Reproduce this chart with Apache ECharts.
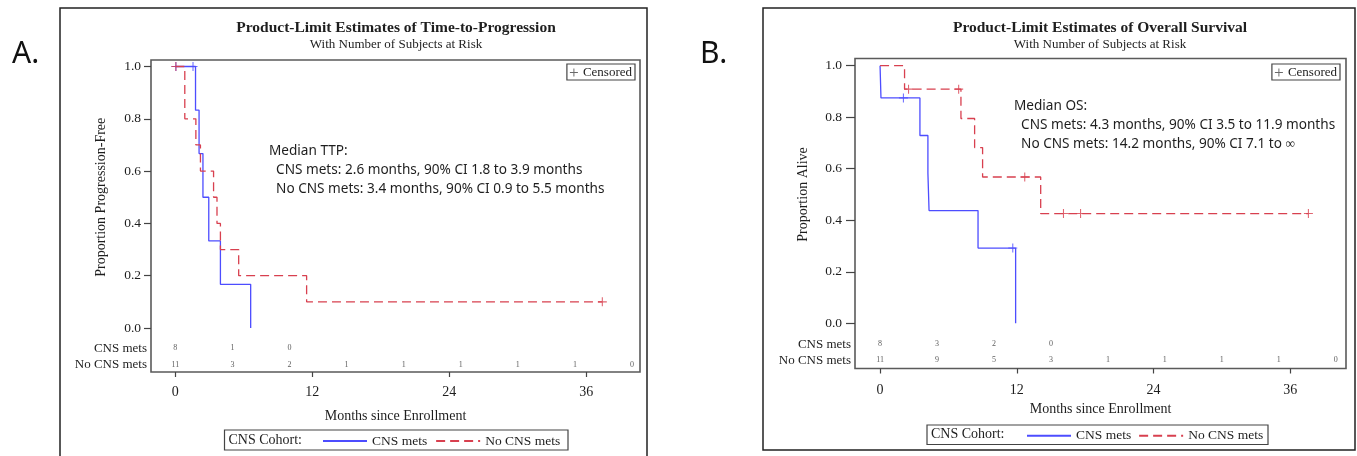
<!DOCTYPE html>
<html>
<head>
<meta charset="utf-8">
<script src="https://cdn.jsdelivr.net/npm/echarts@6/dist/echarts.min.js"></script>
<style>
html, body { margin: 0; padding: 0; background: #fff; }
#main { width: 1357px; height: 456px; }
</style>
</head>
<body>
<div id="main"></div>
<script>
// ---- values ----
var cohorts = ['CNS mets', 'No CNS mets'];
var xTicks = [0, 12, 24, 36];
var riskTimes = [0, 5, 10, 15, 20, 25, 30, 35, 40];

// A. time to progression (Kaplan-Meier steps)
var ttpCnsTime = [0, 1.77, 2.08, 2.42, 2.93, 3.95, 6.6];
var ttpCnsSurv = [1, 0.833, 0.667, 0.5, 0.333, 0.167, 0];
var ttpCnsCensTime = [0.05, 1.55];
var ttpCnsCensSurv = [1, 1];
var ttpNoTime = [0, 0.83, 1.8, 2.2, 3.35, 3.65, 3.95, 5.55, 11.5, 37.4];
var ttpNoSurv = [1, 0.8, 0.7, 0.6, 0.5, 0.4, 0.3, 0.2, 0.1, 0.1];
var ttpNoCensTime = [0.05, 37.4];
var ttpNoCensSurv = [1, 0.1];
var ttpRiskCns = [8, 1, 0];
var ttpRiskNo = [11, 3, 2, 1, 1, 1, 1, 1, 0];

// B. overall survival
var osCnsTime = [0, 0.08, 3.5, 4.2, 4.3, 8.6, 11.9];
var osCnsSurv = [1, 0.875, 0.729, 0.583, 0.4375, 0.292, 0];
var osCnsCensTime = [2.05, 11.65];
var osCnsCensSurv = [0.875, 0.292];
var osNoTime = [0, 2.15, 7.1, 8.3, 9.0, 14.1, 37.6];
var osNoSurv = [1, 0.909, 0.795, 0.682, 0.568, 0.426, 0.426];
var osNoCensTime = [2.5, 6.9, 12.7, 16.1, 17.6, 37.6];
var osNoCensSurv = [0.909, 0.909, 0.568, 0.426, 0.426, 0.426];
var osRiskCns = [8, 3, 2, 0];
var osRiskNo = [11, 9, 5, 3, 1, 1, 1, 1, 0];

var serif = 'Liberation Serif';
var sans = 'Noto Sans';
var blue = '#4d4dff';
var red = '#d8404f';
var ink = '#1e1e1e';
var plusPath = 'path://M4.4,0H5.6V10H4.4ZM0,4.4H10V5.6H0Z';

function zip(t, s) {
    return t.map(function (v, i) { return [v, s[i]]; });
}
function riskData(counts, row) {
    return counts.map(function (c, i) { return [riskTimes[i], row, c]; });
}

// layout of the two panels (pixels)
var panels = [
    {
        frame: {left: 151, top: 60, width: 489, height: 312},
        plot: {left: 151, top: 66.5, width: 489, height: 261.5},
        risk: {left: 151, top: 340, width: 489, height: 33},
        xMin: -2.13, xMax: 40.7, tickLen: 7, yMargin: 10, yGap: 43, xMargin: 13, xGap: 37,
        yName: 'Proportion Progression-Free',
        title: 'Product-Limit Estimates of Time-to-Progression', titleX: 396,
        note: 'Median TTP:\n  CNS mets: 2.6 months, 90% CI 1.8 to 3.9 months\n  No CNS mets: 3.4 months, 90% CI 0.9 to 5.5 months',
        noteX: 269, noteY: 142,
        cns: zip(ttpCnsTime, ttpCnsSurv), no: zip(ttpNoTime, ttpNoSurv),
        cnsCens: zip(ttpCnsCensTime, ttpCnsCensSurv), noCens: zip(ttpNoCensTime, ttpNoCensSurv),
        riskCns: ttpRiskCns, riskNo: ttpRiskNo,
        box: {x: 60, y: 8, width: 587, height: 460},
        legBox: {x: 224.5, y: 430, width: 343.5, height: 20}, legX: 322, legGap: 8,
        censRight: 1357 - 635, letter: 'A.', letterX: 12
    },
    {
        frame: {left: 855, top: 58.5, width: 491, height: 310},
        plot: {left: 855, top: 65.7, width: 491, height: 257.6},
        risk: {left: 855, top: 336, width: 491, height: 32.5},
        xMin: -2.2, xMax: 40.9, tickLen: 9, yMargin: 13, yGap: 45, xMargin: 15, xGap: 34,
        yName: 'Proportion Alive',
        title: 'Product-Limit Estimates of Overall Survival', titleX: 1100,
        note: 'Median OS:\n  CNS mets: 4.3 months, 90% CI 3.5 to 11.9 months\n  No CNS mets: 14.2 months, 90% CI 7.1 to \u221e',
        noteX: 1014, noteY: 97,
        cns: zip(osCnsTime, osCnsSurv), no: zip(osNoTime, osNoSurv),
        cnsCens: zip(osCnsCensTime, osCnsCensSurv), noCens: zip(osNoCensTime, osNoCensSurv),
        riskCns: osRiskCns, riskNo: osRiskNo,
        box: {x: 763, y: 8, width: 592, height: 442},
        legBox: {x: 927, y: 425, width: 341, height: 19.5}, legX: 1026, legGap: 7,
        censRight: 1357 - 1340, letter: 'B.', letterX: 700
    }
];

var chart = echarts.init(document.getElementById('main'));
var option = {
    animation: false,
    backgroundColor: '#fff',
    textStyle: {fontFamily: serif, color: ink},
    title: [], grid: [], xAxis: [], yAxis: [], series: [], legend: [], graphic: []
};

var axisText = {fontFamily: serif, fontSize: 14, color: ink};

panels.forEach(function (p, k) {
    var g = k * 3;  // frame, plot, risk grids of this panel

    option.grid.push(
        Object.assign({show: true, borderColor: '#5a5a5a', borderWidth: 1.6, backgroundColor: '#fff', containLabel: false}, p.frame),
        Object.assign({show: false, containLabel: false}, p.plot),
        Object.assign({show: false, containLabel: false}, p.risk)
    );

    // frame: bottom time axis
    option.xAxis.push({
        gridIndex: g, type: 'value', min: p.xMin, max: p.xMax,
        axisLine: {show: false, onZero: false}, splitLine: {show: false},
        axisTick: {show: true, customValues: xTicks, length: 5, lineStyle: {color: '#444', width: 1.2}},
        axisLabel: {customValues: xTicks, margin: p.xMargin, fontFamily: serif, fontSize: 14, color: ink},
        name: 'Months since Enrollment', nameLocation: 'middle', nameGap: p.xGap, nameTextStyle: axisText
    });
    option.yAxis.push({gridIndex: g, type: 'value', min: 0, max: 1, show: false});

    // plot: survival axis
    option.xAxis.push({gridIndex: g + 1, type: 'value', min: p.xMin, max: p.xMax, show: false});
    option.yAxis.push({
        gridIndex: g + 1, type: 'value', min: 0, max: 1, interval: 0.2,
        axisLine: {show: false, onZero: false}, splitLine: {show: false},
        axisTick: {show: true, length: p.tickLen, lineStyle: {color: '#444', width: 1.2}},
        axisLabel: {margin: p.yMargin, fontFamily: serif, fontSize: 13.5, color: ink,
            formatter: function (v) { return v.toFixed(1); }},
        name: p.yName, nameLocation: 'middle', nameGap: p.yGap, nameTextStyle: axisText
    });

    // risk table rows
    option.xAxis.push({gridIndex: g + 2, type: 'value', min: p.xMin, max: p.xMax, show: false});
    option.yAxis.push({
        gridIndex: g + 2, type: 'category', data: cohorts, inverse: true,
        axisLine: {show: false, onZero: false}, axisTick: {show: false}, splitLine: {show: false},
        axisLabel: {interval: 0, margin: 4, fontFamily: serif, fontSize: 13, color: ink}
    });

    option.series.push(
        {
            name: 'CNS mets', type: 'line', step: 'end', xAxisIndex: g + 1, yAxisIndex: g + 1,
            data: p.cns, symbol: 'none', clip: false, silent: true,
            lineStyle: {color: blue, width: 1.3}, itemStyle: {color: blue}
        },
        {
            name: 'No CNS mets', type: 'line', step: 'end', xAxisIndex: g + 1, yAxisIndex: g + 1,
            data: p.no, symbol: 'none', clip: false, silent: true,
            lineStyle: {color: red, width: 1.3, type: [9, 5]}, itemStyle: {color: red}
        },
        {
            name: 'Censored', type: 'scatter', xAxisIndex: g + 1, yAxisIndex: g + 1,
            data: p.cnsCens, symbol: plusPath, symbolSize: 9, clip: false, silent: true,
            itemStyle: {color: blue}
        },
        {
            name: 'Censored', type: 'scatter', xAxisIndex: g + 1, yAxisIndex: g + 1,
            data: p.noCens, symbol: plusPath, symbolSize: 9, clip: false, silent: true,
            itemStyle: {color: red}
        }
    );

    [p.riskCns, p.riskNo].forEach(function (counts, row) {
        option.series.push({
            name: 'risk' + k + row, type: 'scatter', xAxisIndex: g + 2, yAxisIndex: g + 2,
            data: riskData(counts, row), symbolSize: 1, clip: false, silent: true,
            itemStyle: {color: 'rgba(0,0,0,0)'},
            label: {show: true, position: 'inside', fontFamily: serif, fontSize: 8, color: '#333',
                formatter: function (q) { return q.value[2]; }}
        });
    });

    option.title.push(
        {
            text: p.title, subtext: 'With Number of Subjects at Risk',
            left: p.titleX, top: 20, textAlign: 'center', padding: 0, itemGap: 2.5,
            textStyle: {fontFamily: serif, fontSize: 15.5, fontWeight: 'bold', color: ink},
            subtextStyle: {fontFamily: serif, fontSize: 13, color: ink}
        },
        {
            text: p.note, left: p.noteX, top: p.noteY, padding: 0,
            textStyle: {fontFamily: sans, fontSize: 13.6, fontWeight: 'normal', lineHeight: 19, color: ink}
        },
        {
            text: p.letter, left: p.letterX, top: 39, padding: 0,
            textStyle: {fontFamily: sans, fontSize: 30, fontWeight: 'normal', color: '#111'}
        }
    );

    option.legend.push(
        {
            data: cohorts, left: p.legX, top: p.legBox.y + p.legBox.height / 2 - 6, padding: 0,
            itemWidth: 44, itemHeight: 12, itemGap: p.legGap, selectedMode: false,
            itemStyle: {opacity: 0},
            textStyle: {fontFamily: serif, fontSize: 13.5, color: ink}
        },
        {
            data: [{name: 'Censored', icon: plusPath, itemStyle: {color: '#444'}}],
            right: p.censRight, top: 64, padding: [2, 3, 1, 3],
            itemWidth: 8, itemHeight: 8, selectedMode: false,
            borderColor: '#444', borderWidth: 1.2, backgroundColor: '#fff',
            textStyle: {fontFamily: serif, fontSize: 13, color: ink}
        }
    );

    option.graphic.push(
        {type: 'rect', shape: p.box, z: -10, style: {fill: 'none', stroke: '#222', lineWidth: 1.5}},
        {type: 'rect', shape: p.legBox, style: {fill: 'none', stroke: '#444', lineWidth: 1.2}},
        {type: 'text', x: p.legBox.x + 4, y: p.legBox.y + p.legBox.height / 2,
            style: {text: 'CNS Cohort:', fontFamily: serif, fontSize: 14, fill: ink, verticalAlign: 'middle'}}
    );
});

chart.setOption(option);
</script>
</body>
</html>
